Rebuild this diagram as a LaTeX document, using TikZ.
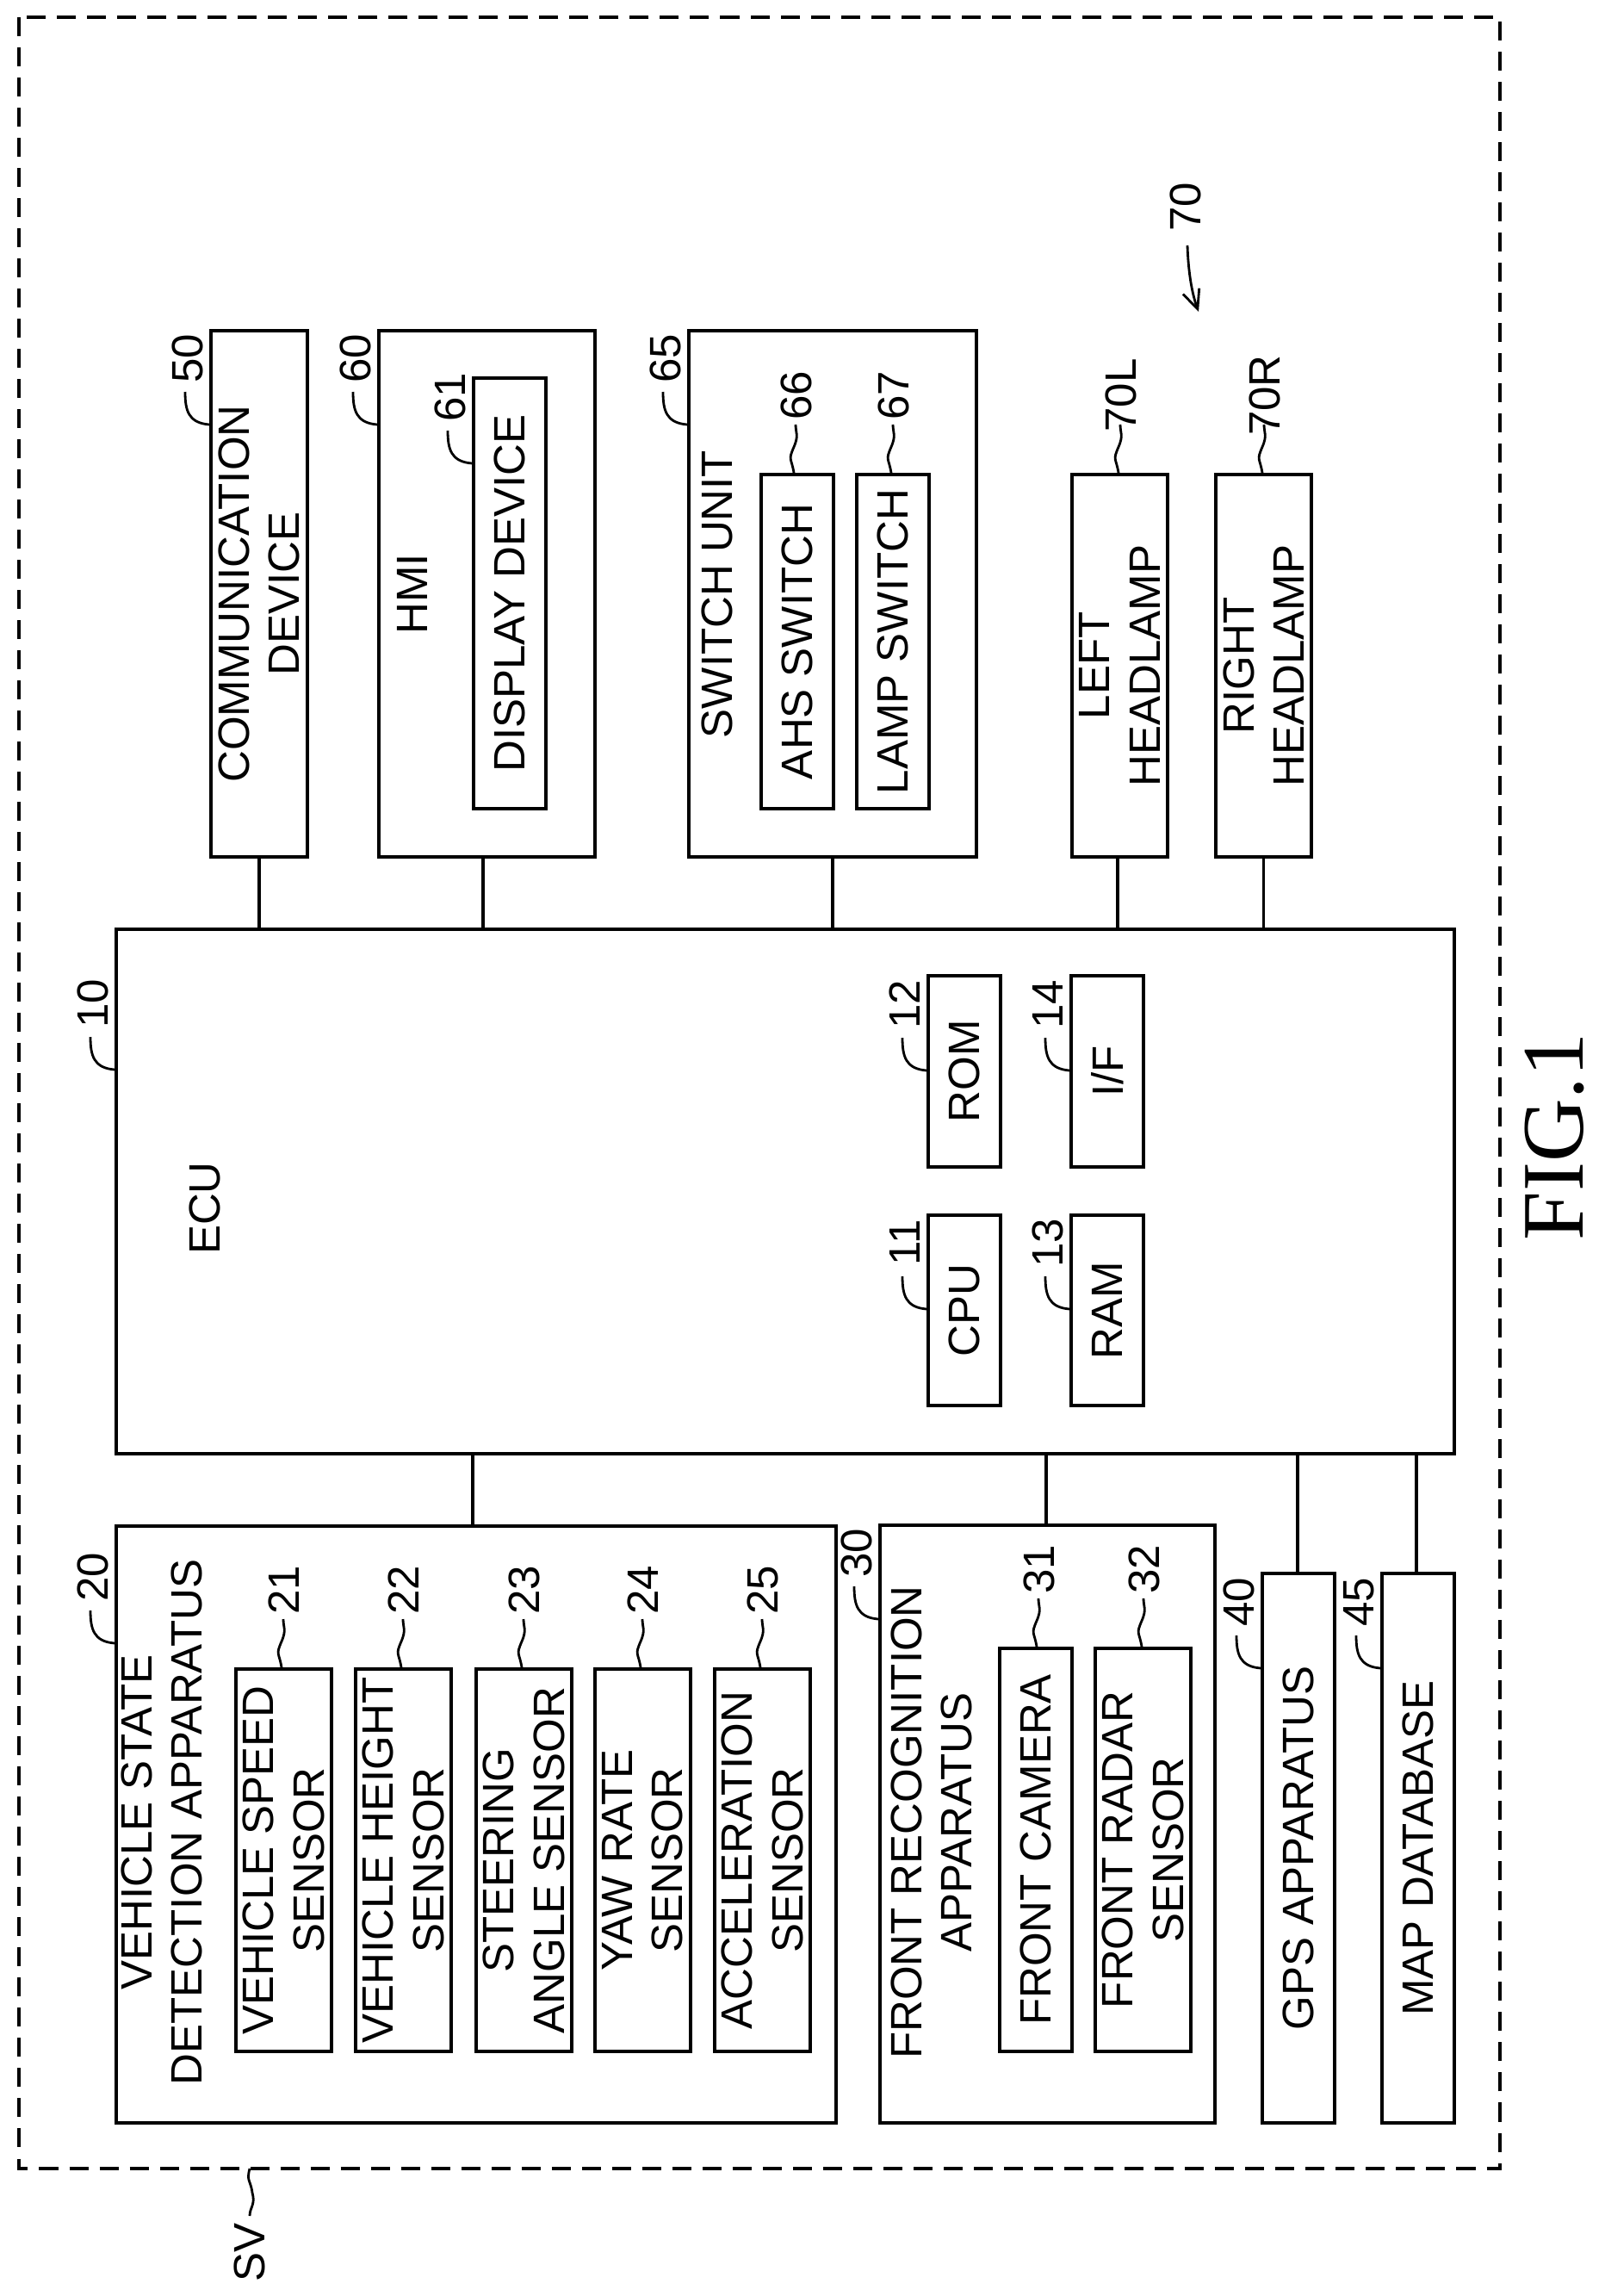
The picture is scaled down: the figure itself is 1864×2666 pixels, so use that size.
\documentclass[tikz,border=0pt]{standalone}
\usepackage{fontspec}
\setmainfont{Liberation Sans}
\newfontfamily\figfont{Liberation Serif}
\usetikzlibrary{arrows.meta}
\tikzset{
  x=0.01cm,y=-0.01cm,
  box/.style={draw,line width=1.1pt,inner sep=0pt},
  txt/.style={rotate=90,align=center,font=\fontsize{14.5}{16.5}\selectfont,inner sep=0pt},
  num/.style={rotate=90,font=\fontsize{14.5}{16}\selectfont,inner sep=0pt},
  wire/.style={line width=1.1pt},
  lead/.style={line width=0.8pt},
}
\newcommand{\bx}[5]{\node[box,anchor=north west,minimum width={(#4-#2)*0.01cm},minimum height={(#5-#3)*0.01cm}] (#1) at (#2,#3) {};}
% left-edge curved leader
\newcommand{\leadA}[4]{\coordinate (#1s) at (#2,#3);
  \draw[lead] (#1s) .. controls +(-24,-2) and +(0,22) .. +(-28,-38);
  \node[num] (#1) at ([shift={(-25,-77)}]#1s) {#4};}
% top-edge wavy leader
\newcommand{\leadB}[4]{\coordinate (#1s) at (#2,#3);
  \draw[lead] (#1s) .. controls +(-3,-18) and +(-7,16) .. +(0,-30) .. controls +(6,-14) and +(0,10) .. +(2,-56);
  \node[num] (#1) at ([shift={(3,-90)}]#1s) {#4};}
\begin{document}
\begin{tikzpicture}
\useasboundingbox (0,0) rectangle (1864,2666);
\draw[line width=0.9pt,dash pattern=on 0.22cm off 0.13cm] (22,20) rectangle (1742,2518);
% ECU
\bx{ecu}{133}{1077}{1687}{1686}
\node[txt] (ecuT) at (238,1403) {ECU};
\bx{cpu}{1076}{1409}{1160}{1630}\node[txt] (cpuT) at (cpu) {CPU};
\bx{ram}{1242}{1409}{1326}{1630}\node[txt] (ramT) at (ram) {RAM};
\bx{rom}{1076}{1131}{1160}{1353}\node[txt] (romT) at (rom) {ROM};
\bx{if}{1242}{1131}{1326}{1353}\node[txt] (ifT) at (if) {I/F};
% top
\bx{com}{243}{382}{355}{993}\node[txt] (comT) at (com) {COMMUNICATION\\DEVICE};
\bx{hmi}{438}{382}{689}{993}\node[txt] (hmiT) at (479,690) {HMI};
\bx{disp}{548}{437}{632}{937}\node[txt] (dispT) at (disp) {DISPLAY DEVICE};
\bx{sw}{798}{382}{1132}{993}\node[txt] (swT) at (833,690) {SWITCH UNIT};
\bx{ahs}{882}{549}{966}{937}\node[txt] (ahsT) at (ahs) {AHS SWITCH};
\bx{lamp}{993}{549}{1077}{937}\node[txt] (lampT) at (lamp) {LAMP SWITCH};
\bx{lh}{1243}{549}{1354}{993}\node[txt] (lhT) at (lh) {LEFT\\HEADLAMP};
\bx{rh}{1410}{549}{1521}{993}\node[txt] (rhT) at (rh) {RIGHT\\HEADLAMP};
% bottom
\bx{vs}{133}{1770}{969}{2463}\node[txt] (vsT) at (188,2116) {VEHICLE STATE\\DETECTION APPARATUS};
\bx{s1}{272}{1936}{383}{2380}\node[txt] (s1T) at (s1) {VEHICLE SPEED\\SENSOR};
\bx{s2}{411}{1936}{522}{2380}\node[txt] (s2T) at (s2) {VEHICLE HEIGHT\\SENSOR};
\bx{s3}{551}{1936}{662}{2380}\node[txt] (s3T) at (s3) {STEERING\\ANGLE SENSOR};
\bx{s4}{689}{1936}{800}{2380}\node[txt] (s4T) at (s4) {YAW RATE\\SENSOR};
\bx{s5}{828}{1936}{939}{2380}\node[txt] (s5T) at (s5) {ACCELERATION\\SENSOR};
\bx{fr}{1020}{1769}{1409}{2463}\node[txt] (frT) at (1082,2116) {FRONT RECOGNITION\\APPARATUS};
\bx{fc}{1159}{1912}{1243}{2380}\node[txt] (fcT) at (fc) {FRONT CAMERA};
\bx{frs}{1270}{1912}{1381}{2380}\node[txt] (frsT) at (frs) {FRONT RADAR\\SENSOR};
\bx{gps}{1464}{1825}{1548}{2463}\node[txt] (gpsT) at (gps) {GPS APPARATUS};
\bx{map}{1603}{1825}{1687}{2463}\node[txt] (mapT) at (map) {MAP DATABASE};
% wires
\draw[wire] (com.south) -- (com.south |- ecu.north);
\draw[wire] (561,993) -- (561,1077);
\draw[wire] (sw.south) -- (sw.south |- ecu.north);
\draw[wire] (1298,993) -- (1298,1077);
\draw[wire] (rh.south) -- (rh.south |- ecu.north);
\draw[wire] (549,1686) -- (549,1770);
\draw[wire] (1215,1686) -- (1215,1769);
\draw[wire] (1507,1686) -- (1507,1825);
\draw[wire] (1645,1686) -- (1645,1825);
% leaders type A
\leadA{n10}{133}{1242}{10}
\leadA{n20}{133}{1908}{20}
\leadA{n30}{1020}{1880}{30}
\leadA{n40}{1464}{1937}{40}
\leadA{n45}{1603}{1937}{45}
\leadA{n50}{243}{493}{50}
\leadA{n60}{438}{493}{60}
\leadA{n65}{798}{493}{65}
\leadA{n61}{548}{538}{61}
\leadA{n11}{1076}{1520}{11}
\leadA{n12}{1076}{1243}{12}
\leadA{n13}{1242}{1520}{13}
\leadA{n14}{1242}{1243}{14}
% leaders type B
\leadB{n21}{327}{1936}{21}
\leadB{n22}{466}{1936}{22}
\leadB{n23}{606}{1936}{23}
\leadB{n24}{744}{1936}{24}
\leadB{n25}{883}{1936}{25}
\leadB{n31}{1204}{1912}{31}
\leadB{n32}{1326}{1912}{32}
\leadB{n66}{922}{549}{66}
\leadB{n67}{1035}{549}{67}
\leadB{n70L}{1299}{549}{70L}
\leadB{n70R}{1466}{549}{70R}
% 70 arrow
\node[num] (n70) at (1377,240) {70};
\coordinate (a70) at (1392,362);
\draw[lead,-{Straight Barb[length=0.22cm,width=0.2cm]}] (1379,285) .. controls (1380,315) and (1384,340) .. (a70);
% SV
\coordinate (sv0) at (290,2518);
\draw[lead] (sv0) .. controls +(-4,15) and +(-2,-15) .. +(3,28) .. controls +(4,14) and +(0,-10) .. +(0,55);
\node[num] (sv) at (290,2615) {SV};
% FIG
\node[rotate=90,font=\figfont\fontsize{29}{32}\selectfont,inner sep=0pt] (fig) at (1805,1320) {FIG.1};
\end{tikzpicture}
\end{document}
